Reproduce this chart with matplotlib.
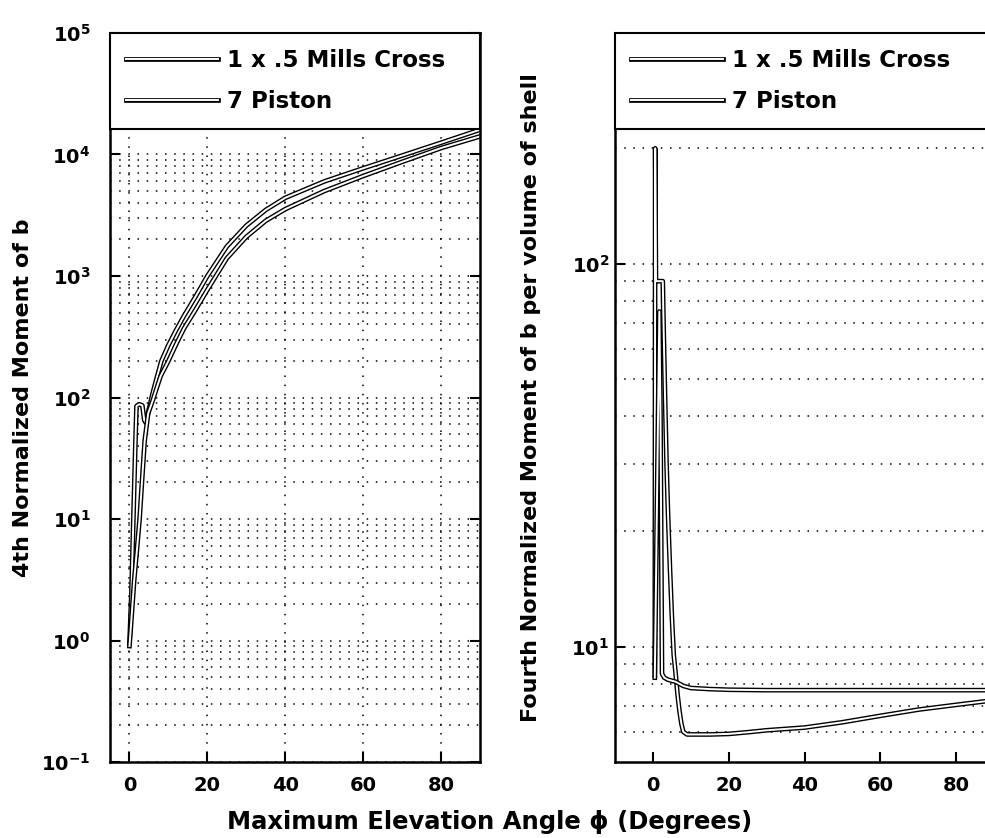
import numpy as np
import matplotlib
matplotlib.use("Agg")
import matplotlib.pyplot as plt
import matplotlib.patheffects as pe
from matplotlib.ticker import FixedLocator, FuncFormatter, NullFormatter

plt.rcParams['font.family'] = ['DejaVu Sans']
plt.rcParams['font.weight'] = 'bold'

# left panel: 4th normalized moment of b
mills_x = [0, 0.5, 1.0, 1.5, 1.8, 2.5, 3.3, 3.8, 4.2, 5, 6, 7, 8.2, 10, 12, 14, 17, 20,
           25, 30, 35, 40, 50, 60, 70, 80, 90]
mills_y = [0.95, 2.5, 10, 40, 85, 88, 86, 65, 62, 80, 110, 145, 200, 270, 360, 470, 680, 1000,
           1750, 2600, 3500, 4400, 6000, 7700, 9800, 12500, 16000]
piston_x = [0, 0.5, 1.2, 2.0, 2.6, 3.2, 3.9, 4.8, 6, 7, 8, 10, 12, 14, 17, 20,
            25, 30, 35, 40, 50, 60, 70, 80, 90]
piston_y = [0.9, 1.5, 3.1, 6, 10, 20, 44, 74, 95, 120, 150, 200, 275, 370, 530, 770,
            1400, 2100, 2850, 3550, 5000, 6650, 8700, 11300, 14100]

# right panel: fourth moment per volume of shell
shell_a_x = [0.5, 0.6, 0.8, 2.6, 2.8, 3.2, 3.6, 4.0, 4.5, 5.0, 5.5, 6.0, 6.5, 7.0, 7.5, 8.0,
             9, 10, 15, 20, 25, 30, 40, 50, 60, 70, 80, 90]
shell_a_y = [8.4, 200, 90, 90, 70, 45, 30, 22, 16, 12, 9.5, 8.5, 7.5, 6.8, 6.3, 6.0,
             5.9, 5.9, 5.9, 5.92, 5.98, 6.05, 6.15, 6.35, 6.6, 6.85, 7.05, 7.25]
shell_b_x = [0.5, 1.2, 1.7, 2.0, 2.4, 3.0, 4.0, 5.0, 6.0, 8.0, 10, 15, 20, 30, 40, 60, 80, 90]
shell_b_y = [8.3, 30, 75, 40, 8.5, 8.3, 8.2, 8.15, 8.1, 7.9, 7.8, 7.75, 7.72, 7.7, 7.7,
             7.7, 7.7, 7.7]

labels = ['1 x .5 Mills Cross', '7 Piston']
xticks = [0, 20, 40, 60, 80]
left_decades = [1e-1, 1e0, 1e1, 1e2, 1e3, 1e4, 1e5]
right_decades = [1e1, 1e2]


def outlined(ax, x, y, label):
    ax.plot(x, y, color='white', lw=1.4, label=label,
            path_effects=[pe.Stroke(linewidth=3.4, foreground='black'), pe.Normal()])


def dec_fmt(v, pos):
    return r'$\mathbf{10^{%d}}$' % int(round(np.log10(v)))


def minors(lo, hi):
    out = []
    for d in range(int(np.floor(np.log10(lo))), int(np.ceil(np.log10(hi)))):
        for s in range(2, 10):
            v = s * 10.0 ** d
            if lo < v < hi:
                out.append(v)
    return out


fig = plt.figure(figsize=(9.85, 8.38), dpi=100)
ax1 = fig.add_axes([110 / 985, 1 - 762 / 838, 370 / 985, 729 / 838])
ax2 = fig.add_axes([615 / 985, 1 - 762 / 838, 417 / 985, 729 / 838])

outlined(ax1, mills_x, mills_y, labels[0])
outlined(ax1, piston_x, piston_y, labels[1])
ax1.set_yscale('log')
ax1.set_xlim(-5, 90)
ax1.set_ylim(0.1, 1e5)

outlined(ax2, shell_a_x, shell_a_y, labels[0])
outlined(ax2, shell_b_x, shell_b_y, labels[1])
ax2.set_yscale('log')
ax2.set_xlim(-10, 100)
ax2.set_ylim(5, 400)

dots = (0, (1, 5))
for ax, pad, dec in [(ax1, 14, left_decades), (ax2, 4, right_decades)]:
    lo, hi = ax.get_ylim()
    ax.set_xticks(xticks)
    ax.yaxis.set_major_locator(FixedLocator(dec))
    ax.yaxis.set_minor_locator(FixedLocator(minors(lo, hi)))
    ax.yaxis.set_major_formatter(FuncFormatter(dec_fmt))
    ax.yaxis.set_minor_formatter(NullFormatter())
    ax.tick_params(axis='both', which='major', direction='in', length=7, width=1.5,
                   top=True, right=True, labelsize=14)
    ax.tick_params(axis='y', which='major', pad=pad)
    ax.tick_params(axis='x', which='major', pad=10)
    ax.tick_params(axis='y', which='minor', length=0)
    ax.grid(True, which='both', axis='y', linestyle=dots, color='black', linewidth=1.1)
    for s in ax.spines.values():
        s.set_linewidth(1.8)
    leg = ax.legend(loc='upper left', bbox_to_anchor=(0, 0, 1, 1), mode='expand',
                    borderaxespad=0, fancybox=False, framealpha=1, edgecolor='black',
                    handlelength=4.0, handletextpad=0.4, borderpad=0.7, labelspacing=0.8,
                    prop={'size': 16.5, 'weight': 'bold'})
    leg.get_frame().set_linewidth(1.5)

ax1.grid(True, which='major', axis='x', linestyle=dots, color='black', linewidth=1.1)

ax1.set_ylabel('4th Normalized Moment of b', fontsize=16, fontweight='bold')
ax1.yaxis.set_label_coords(-0.208, 0.5)
ax2.set_ylabel('Fourth Normalized Moment of b per volume of shell', fontsize=16,
               fontweight='bold')
ax2.yaxis.set_label_coords(-0.178, 0.5)

fig.text(490 / 985, 1 - 822 / 838, 'Maximum Elevation Angle \u03d5 (Degrees)',
         ha='center', va='center', fontsize=17.5, fontweight='bold')

fig.savefig('out.png', dpi=100)
